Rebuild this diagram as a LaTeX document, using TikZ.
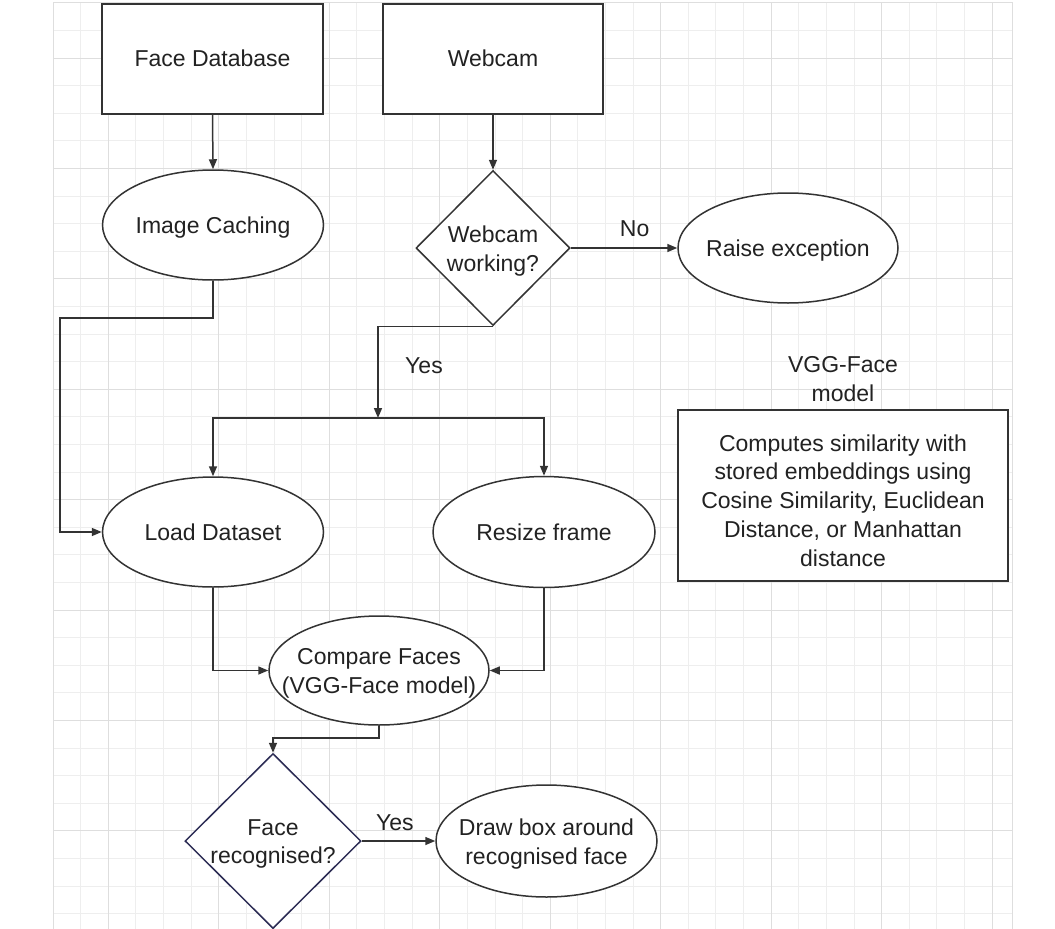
\documentclass[tikz,border=0pt]{standalone}
\usepackage{fontspec}
\setmainfont{Liberation Sans}
\usetikzlibrary{shapes.geometric,arrows.meta}
\definecolor{linec}{RGB}{51,51,51}
\definecolor{textc}{RGB}{34,34,34}
\definecolor{navyc}{RGB}{45,45,85}
\definecolor{gminor}{RGB}{238,238,238}
\definecolor{gmajor}{RGB}{222,222,222}
\tikzset{
  txt/.style={font=\fontsize{23}{28.8}\selectfont, text=textc, align=center, inner sep=0pt},
  dtxt/.style={txt, yshift=-3pt},
  shp/.style={draw=linec, line width=1.5pt, fill=white, inner sep=0pt},
  boxnode/.style={shp, rectangle},
  ellnode/.style={shp, ellipse},
  decnode/.style={shp, diamond},
  conn/.style={draw=linec, line width=1.5pt, -{Triangle[length=10pt,width=8pt]}},
  gridminor/.style={draw=gminor, line width=0.8pt},
  gridmajor/.style={draw=gmajor, line width=1pt}
}
\begin{document}
\begin{tikzpicture}[x=1pt,y=-1pt]
\useasboundingbox (0,0) rectangle (1055,929);
\fill[white] (0,0) rectangle (1055,929);
% grid
\foreach \k in {0,...,34} \draw[gridminor] ({53+27.62*\k},2.8) -- ({53+27.62*\k},929);
\foreach \k in {0,...,33} \draw[gridminor] (53,{2.8+27.6*\k}) -- (1012,{2.8+27.6*\k});
\foreach \k in {2,6,...,34} \draw[gridmajor] ({53+27.62*\k},2.8) -- ({53+27.62*\k},929);
\foreach \k in {2,6,...,30} \draw[gridmajor] (53,{2.8+27.6*\k}) -- (1012,{2.8+27.6*\k});
\draw[gridmajor] (53,929) -- (53,2.8) -- (1012,2.8) -- (1012,929);

% nodes
\node[boxnode, minimum width=221pt, minimum height=110pt, label={[txt, yshift=1pt]center:Face Database}] (fdb) at (212.5,59) {};
\node[boxnode, minimum width=220pt, minimum height=110pt, label={[txt, yshift=1pt]center:Webcam}] (web) at (493,59) {};
\node[ellnode, minimum width=221pt, minimum height=110pt, label={[dtxt]center:Image Caching}] (cache) at (213,225) {};
\node[decnode, minimum width=154pt, minimum height=155pt, label={[dtxt]center:{Webcam\\working?}}] (wdec) at (493,248) {};
\node[ellnode, minimum width=220pt, minimum height=110pt, label={[dtxt]center:Raise exception}] (raise) at (788,248) {};
\node[ellnode, minimum width=221pt, minimum height=110pt, label={[txt]center:Load Dataset}] (load) at (213,532) {};
\node[ellnode, minimum width=222pt, minimum height=111pt, label={[txt]center:Resize frame}] (resize) at (544,532) {};
\node[ellnode, minimum width=220pt, minimum height=109pt, label={[dtxt]center:{Compare Faces\\(VGG-Face model)}}] (compare) at (379,670.5) {};
\node[decnode, draw=navyc, minimum width=176pt, minimum height=175pt, label={[dtxt]center:{Face\\recognised?}}] (fdec) at (273,841) {};
\node[ellnode, minimum width=221pt, minimum height=112pt, label={[dtxt]center:{Draw box around\\recognised face}}] (drawbox) at (546.5,841) {};
\node[txt] (vggtitle) at (843,379) {VGG-Face\\model};
\node[boxnode, minimum width=330pt, minimum height=171pt, label={[txt, yshift=-5pt]center:{Computes similarity with\\stored embeddings using\\Cosine Similarity, Euclidean\\Distance, or Manhattan\\distance}}] (sim) at (843,495.5) {};

\coordinate (split) at (378,418);
\coordinate (cacheleft) at (60,318);

% connectors
\draw[conn] (fdb.south) -- (cache.north);
\draw[conn] (web.south) -- (wdec.north);
\draw[conn] (wdec.east) -- node[txt, pos=0.6, yshift=19pt] {No} (raise.west);
\draw[conn] (wdec.south) -| node[txt, pos=0.715, xshift=46pt] {Yes} (split);
\draw[conn] (split) -| (load.north);
\draw[conn] (split) -| (resize.north);
\draw[conn] (cache.south) |- (cacheleft) |- (load.west);
\draw[conn] (load.south) |- (compare.west);
\draw[conn] (resize.south) |- (compare.east);
\draw[conn] (compare.south) -- ++(0,12) -| (fdec.north);
\draw[conn] (fdec.east) -- node[txt, pos=0.45, yshift=18pt] {Yes} (drawbox.west);
\end{tikzpicture}
\end{document}
